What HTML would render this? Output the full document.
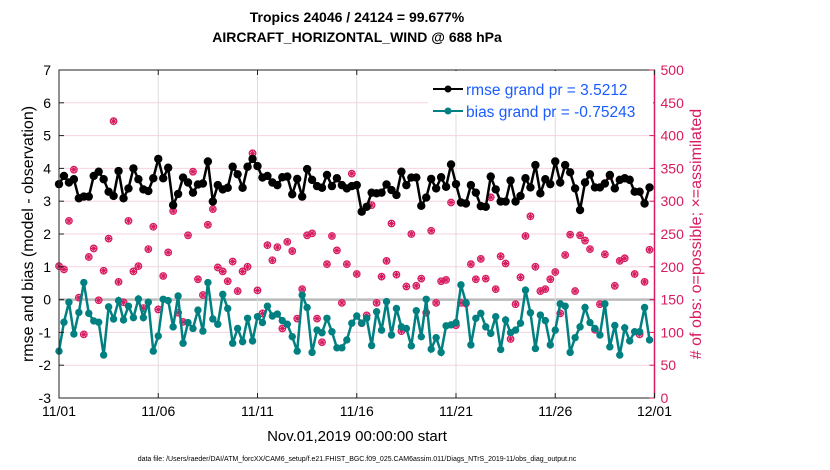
<!DOCTYPE html>
<html><head><meta charset="utf-8"><style>
html,body{margin:0;padding:0;background:#fff;}
svg{display:block;font-family:"Liberation Sans",sans-serif;}
</style></head><body>
<svg id="chart" width="830" height="470" viewBox="0 0 830 470">
<text x="357" y="22" text-anchor="middle" font-size="14" font-weight="bold">Tropics 24046 / 24124 = 99.677%</text>
<text x="357" y="42" text-anchor="middle" font-size="14" font-weight="bold">AIRCRAFT_HORIZONTAL_WIND @ 688 hPa</text>
<g id="grid"></g>
<g id="marks"></g>
<g id="axes"></g>
<g>
<rect x="428" y="71" width="225" height="43" fill="#fff"/>
<line x1="433" y1="89" x2="463" y2="89" stroke="#000" stroke-width="2"/>
<circle cx="448" cy="89" r="3.5" fill="#000"/>
<text x="466" y="95" font-size="15.5" fill="#1a5cff">rmse grand pr = 3.5212</text>
<line x1="433" y1="111" x2="463" y2="111" stroke="#008080" stroke-width="2"/>
<circle cx="448" cy="111" r="3.5" fill="#008080"/>
<text x="466" y="117" font-size="15.5" fill="#1a5cff">bias grand pr = -0.75243</text>
</g>
<text transform="translate(33,234) rotate(-90)" text-anchor="middle" font-size="16">rmse and bias (model - observation)</text>
<text transform="translate(701,234) rotate(-90)" text-anchor="middle" font-size="16" fill="#d81b60"># of obs: o=possible; ×=assimilated</text>
<text x="357" y="441" text-anchor="middle" font-size="15">Nov.01,2019 00:00:00 start</text>
<text x="357" y="461" text-anchor="middle" font-size="7">data file: /Users/raeder/DAI/ATM_forcXX/CAM6_setup/f.e21.FHIST_BGC.f09_025.CAM6assim.011/Diags_NTrS_2019-11/obs_diag_output.nc</text>
</svg>
<script>
const rmse=[3.52,3.77,3.57,3.67,3.09,3.14,3.14,3.77,3.90,3.67,3.29,3.16,3.92,3.09,3.39,4.00,3.67,3.36,3.31,3.70,4.29,3.70,4.02,2.88,3.22,3.72,3.57,3.26,3.51,3.54,4.21,2.99,3.49,3.36,3.41,4.05,3.82,3.41,4.05,4.29,4.07,3.72,
3.77,3.57,3.49,3.73,3.75,3.21,3.68,3.14,3.98,3.65,3.46,3.41,3.80,3.46,3.70,3.49,3.39,3.46,3.49,2.68,2.83,3.26,3.24,3.26,3.51,3.34,3.19,3.90,3.49,3.72,3.72,2.86,3.11,3.68,3.39,3.73,3.44,4.12,3.52,2.96,
2.93,3.49,3.26,2.85,2.83,3.75,3.36,2.99,2.99,3.63,2.99,3.16,3.70,3.42,4.10,3.24,3.67,3.52,4.21,3.57,4.10,3.88,3.39,2.73,3.57,3.82,3.42,3.42,3.54,3.80,3.39,3.65,3.70,3.65,3.29,3.29,2.93,3.42];
const bias=[-1.57,-0.69,-0.08,-1.05,-0.39,0.52,-0.42,-0.65,-0.69,-1.69,-0.22,-0.59,-0.03,-0.62,-0.20,-0.55,0.02,-0.55,-0.08,-1.57,-1.11,0.01,-0.03,-0.83,0.11,-1.33,-0.70,-0.88,-0.32,-0.96,0.52,-0.59,-0.75,0.16,-0.27,-1.33,-0.88,-1.28,-0.57,-1.26,-0.52,-0.70,
-0.20,-0.50,-0.44,-0.64,-0.75,-1.13,-1.57,0.14,-0.24,-1.61,-0.93,-1.01,-0.57,-0.98,-1.47,-1.47,-1.23,-0.72,-0.50,-0.72,-0.57,-1.40,-0.37,-0.93,-0.06,-1.08,-0.27,-0.83,-0.88,-1.41,-0.34,-1.13,0.01,-1.51,-1.16,-1.61,-0.80,-0.77,-0.70,0.45,
-0.09,-1.38,-0.57,-0.42,-0.83,-1.03,-0.52,-1.52,-0.62,-1.01,-0.93,-0.72,0.29,-0.40,-1.49,-0.47,-0.64,-1.38,-0.93,-0.13,-0.20,-1.61,-1.16,-0.83,-0.24,-0.70,-0.88,-1.08,-0.13,-1.44,-0.79,-1.69,-0.86,-1.26,-0.98,-0.98,-0.24,-1.23];
const nobs=[201,196,270,348,153,97,215,228,149,194,243,422,177,146,270,193,201,137,227,261,135,186,222,285,130,116,248,345,181,157,264,288,199,193,178,208,163,193,200,373,164,129,
233,210,230,106,238,224,121,166,248,251,121,85,204,247,225,145,204,342,189,114,126,294,145,185,209,266,188,102,170,250,171,182,130,255,145,178,180,298,111,145,
144,204,181,212,182,306,166,216,205,90,143,184,247,277,200,163,166,181,192,129,218,249,163,248,240,227,104,143,219,338,171,209,213,333,189,97,177,226];
const xTickLabels=["11/01","11/06","11/11","11/16","11/21","11/26","12/01"];
const xTickDays=[0,5,10,15,20,25,30];
const yLeftTicks=[7,6,5,4,3,2,1,0,-1,-2,-3];
const yRightTicks=[500,450,400,350,300,250,200,150,100,50,0];

const L=59,R=654.5,T=70,B=398,NS="http://www.w3.org/2000/svg";
const xs=d=>L+(R-L)*d/30;
const yL=v=>T+(7-v)*(B-T)/10;
const yR=v=>B-v*(B-T)/500;
function mk(tag,attrs,parent){const e=document.createElementNS(NS,tag);for(const k in attrs)e.setAttribute(k,attrs[k]);parent.appendChild(e);return e;}
const grid=document.getElementById('grid'),marks=document.getElementById('marks'),axes=document.getElementById('axes');
mk('rect',{x:L,y:T,width:R-L,height:B-T,fill:'#fff'},grid);
yLeftTicks.forEach(v=>{const l=mk('line',{x1:L,x2:R,y1:yL(v),y2:yL(v),stroke:v===0?'#bbb':'#f6d3e0','stroke-width':v===0?2.5:1},grid);

});
xTickDays.forEach(d=>{const l=mk('line',{x1:xs(d),x2:xs(d),y1:T,y2:B,stroke:'#ddd','stroke-width':1},grid);

});
nobs.forEach((n,i)=>{const cx=xs(i/4),cy=yR(n);
const g=mk('g',{},marks);


mk('circle',{cx,cy,r:3.3,fill:'none',stroke:'#d81b60','stroke-width':1.2},g);
mk('path',{d:`M${cx-3} ${cy}H${cx+3}M${cx} ${cy-3}V${cy+3}M${cx-2.2} ${cy-2.2}L${cx+2.2} ${cy+2.2}M${cx-2.2} ${cy+2.2}L${cx+2.2} ${cy-2.2}`,stroke:'#d81b60','stroke-width':1.1},g);});
function series(arr,color,r,name){
const p=mk('polyline',{points:arr.map((v,i)=>xs(i/4)+','+yL(v)).join(' '),fill:'none',stroke:color,'stroke-width':2.5},marks);


arr.forEach((v,i)=>{const c=mk('circle',{cx:xs(i/4),cy:yL(v),r:r,fill:color},marks);

});}
series(bias,'#008080',3.7,'bias');
series(rmse,'#000',4.2,'rmse');
mk('rect',{x:L,y:T,width:R-L,height:B-T,fill:'none',stroke:'#222','stroke-width':1},axes);
mk('line',{x1:R,x2:R,y1:T,y2:B,stroke:'#d81b60','stroke-width':1.5},axes);
yLeftTicks.forEach(v=>{mk('line',{x1:L,x2:L+5,y1:yL(v),y2:yL(v),stroke:'#222'},axes);
const t=mk('text',{x:L-8,y:yL(v)+5,'text-anchor':'end','font-size':14},axes);t.textContent=v;

});
yRightTicks.forEach(v=>{mk('line',{x1:R-5,x2:R,y1:yR(v),y2:yR(v),stroke:'#d81b60'},axes);
const t=mk('text',{x:R+6,y:yR(v)+5,'font-size':14,fill:'#d81b60'},axes);t.textContent=v;

});
xTickDays.forEach((d,i)=>{mk('line',{x1:xs(d),x2:xs(d),y1:B,y2:B-5,stroke:'#222'},axes);mk('line',{x1:xs(d),x2:xs(d),y1:T,y2:T+5,stroke:'#222'},axes);
const t=mk('text',{x:xs(d),y:B+18,'text-anchor':'middle','font-size':14},axes);t.textContent=xTickLabels[i];

});
</script>
</body></html>
